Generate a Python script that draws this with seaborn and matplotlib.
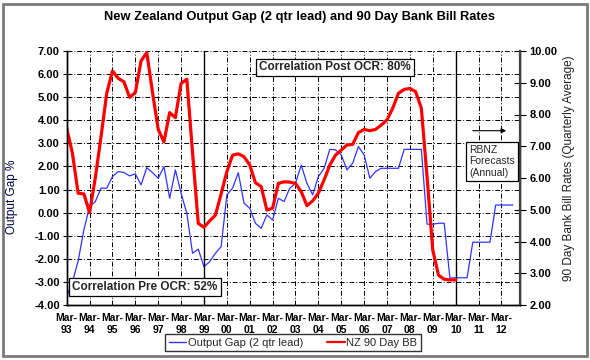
import numpy as np
import pandas as pd
import matplotlib
matplotlib.use("Agg")
import matplotlib.pyplot as plt
import seaborn as sns
from matplotlib.patches import Rectangle
from matplotlib.lines import Line2D

sns.set_theme(style="white")
plt.rcParams['font.family'] = ['Liberation Sans', 'DejaVu Sans']

# ---- data (quarterly, Mar-93 onwards) ----
years = ["93", "94", "95", "96", "97", "98", "99", "00", "01", "02",
         "03", "04", "05", "06", "07", "08", "09", "10", "11", "12"]
tick_labels = [f"Mar-\n{y}" for y in years]

output_gap = [-3.64, -3.0, -2.1, -0.75, 0.26, 0.48, 1.06, 1.06, 1.56, 1.78,
              1.74, 1.59, 1.68, 1.20, 1.95, 1.73, 1.49, 1.99, 0.62, 1.85,
              0.84, -0.03, -1.76, -1.58, -2.34, -2.12, -1.76, -1.47, 0.77, 1.06,
              1.73, 0.41, 0.19, -0.46, -0.68, -0.10, -0.32, 0.62, 0.48, 1.06,
              1.27, 2.06, 1.27, 0.77, 1.56, 1.92, 2.74, 2.72, 2.50, 1.85,
              2.14, 2.86, 2.50, 1.49, 1.78, 1.92, 1.92, 1.92, 1.92, 2.74,
              2.74, 2.74, 2.74, -0.50, -0.50, -0.46, -0.46, -2.84, -2.82, -2.82,
              -2.82, -1.28, -1.28, -1.28, -1.28, 0.33, 0.33, 0.33, 0.33]

bank_bill = [7.57, 6.78, 5.52, 5.50, 4.91, 6.0, 7.3, 8.67, 9.37, 9.14,
             9.03, 8.54, 8.69, 9.69, 9.95, 8.7, 7.53, 7.14, 8.06, 7.90,
             8.98, 9.11, 6.8, 4.57, 4.45, 4.65, 4.83, 5.5, 6.2, 6.72,
             6.76, 6.67, 6.41, 5.85, 5.73, 4.99, 5.05, 5.83, 5.88, 5.87,
             5.83, 5.57, 5.13, 5.28, 5.52, 5.94, 6.41, 6.72, 6.88, 7.04,
             7.06, 7.43, 7.53, 7.49, 7.53, 7.67, 7.83, 8.20, 8.67, 8.79,
             8.82, 8.72, 8.20, 6.04, 3.73, 2.94, 2.81, 2.79, 2.79]

gap_df = pd.DataFrame({"quarter": np.arange(len(output_gap)), "gap": output_gap})
bb_df = pd.DataFrame({"quarter": np.arange(len(bank_bill)), "bb": bank_bill})

BLUE = "#3333FF"
RED = "#FF0000"

fig = plt.figure(figsize=(5.9, 3.6), dpi=100)
fig.patch.set_facecolor("white")
ax = fig.add_axes([66.7 / 590, 1 - 305 / 360, (520 - 66.7) / 590, (305 - 51) / 360])
ax2 = ax.twinx()

sns.lineplot(data=gap_df, x="quarter", y="gap", ax=ax, color=BLUE, lw=0.9, legend=False)
sns.lineplot(data=bb_df, x="quarter", y="bb", ax=ax2, color=RED, lw=2.3, legend=False)

# axes ranges / ticks
ax.set_xlim(0, 79.25)
ax.set_ylim(-4, 7)
ax2.set_ylim(2, 10)
ax.set_xticks(np.arange(0, 80, 4))
ax.set_xticklabels(tick_labels)
ax.set_yticks(np.arange(-4, 8, 1))
ax.set_yticklabels([f"{v:.2f}" for v in np.arange(-4, 8, 1)])
ax2.set_yticks(np.arange(2, 11, 1))
ax2.set_yticklabels([f"{v:.2f}" for v in np.arange(2, 11, 1)])

ax.set_xlabel("")
ax.set_ylabel("")
ax2.set_ylabel("")

ax.grid(True, color="black", lw=0.7, linestyle=(0, (5, 2, 1, 2)))
ax.axvline(24, color="black", lw=1.0)
ax.axvline(68, color="black", lw=1.0)

for a in (ax, ax2):
    for s in a.spines.values():
        s.set_color("black")
        s.set_linewidth(1.0)
    a.spines["top"].set_visible(False)
ax2.spines["right"].set_color("#404040")
ax2.spines["right"].set_linewidth(1.6)

ax.tick_params(axis="x", direction="inout", length=6, width=0.8, colors="black",
               labelsize=7.5, pad=3)
ax.tick_params(axis="y", direction="inout", length=6, width=0.8, colors="black",
               labelsize=8, pad=2)
ax2.tick_params(axis="y", direction="inout", length=8, width=0.8, colors="black",
                labelsize=8, pad=3)
for lab in ax.get_xticklabels() + ax.get_yticklabels() + ax2.get_yticklabels():
    lab.set_fontweight("bold")
    lab.set_color("black")

# axis labels
fig.text(12 / 590, 1 - 197 / 360, "Output Gap %", rotation=90, ha="center", va="center",
         fontsize=8.5, color="#000040")
fig.text(569 / 590, 1 - 168 / 360, "90 Day Bank Bill Rates (Quarterly Average)", rotation=90,
         ha="center", va="center", fontsize=8.5, color="#202020")

# title
fig.text(299 / 590, 1 - 17 / 360, "New Zealand Output Gap (2 qtr lead) and 90 Day Bank Bill Rates",
         ha="center", va="center", fontsize=9.3, fontweight="bold", color="black")

# annotation boxes
box = dict(boxstyle="square,pad=0.25", facecolor="white", edgecolor="black", lw=0.9)
fig.text(335 / 590, 1 - 67.5 / 360, "Correlation Post OCR: 80%", ha="center", va="center",
         fontsize=8.5, fontweight="bold", bbox=box, zorder=10)
fig.text(145 / 590, 1 - 287 / 360, "Correlation Pre OCR: 52%", ha="center", va="center",
         fontsize=8.5, fontweight="bold", bbox=box, zorder=10)
fig.text(469 / 590, 1 - 161.5 / 360, "RBNZ\nForecasts\n(Annual)", ha="left", va="center",
         fontsize=7.5, linespacing=1.15,
         bbox=dict(boxstyle="square,pad=0.3", facecolor="white", edgecolor="black", lw=0.9),
         zorder=10)
fig.add_artist(matplotlib.patches.FancyArrowPatch(
    (470 / 590, 1 - 130.7 / 360), (509 / 590, 1 - 130.7 / 360),
    transform=fig.transFigure, arrowstyle="-|>", mutation_scale=7, color="black", lw=0.8))

# legend
handles = [Line2D([], [], color=BLUE, lw=1.0), Line2D([], [], color=RED, lw=1.6)]
leg = fig.legend(handles, ["Output Gap (2 qtr lead)", "NZ 90 Day BB"], loc="center",
                 bbox_to_anchor=(293 / 590, 1 - 342.5 / 360), ncol=2, frameon=True,
                 fancybox=False, edgecolor="black", fontsize=8, handlelength=1.6,
                 handletextpad=0.1, columnspacing=2.2, borderpad=0.35)
leg.get_frame().set_linewidth(1.0)

# outer chart border
fig.patches.append(Rectangle((3 / 590, 4 / 360), 584 / 590, 352 / 360,
                             transform=fig.transFigure, fill=False,
                             edgecolor="#7a7a7a", lw=2.0))

fig.savefig("out.png", dpi=100)
